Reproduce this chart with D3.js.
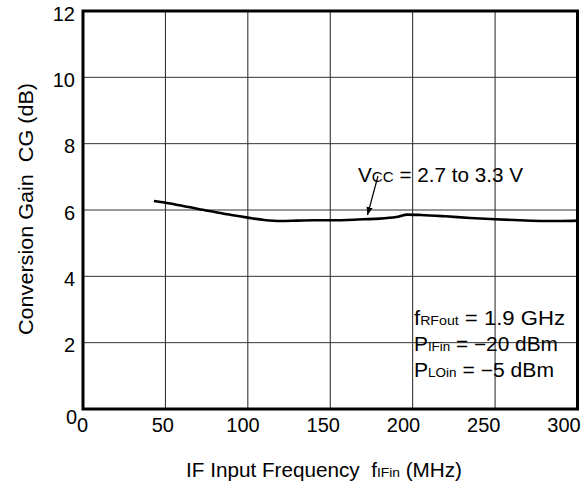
<!DOCTYPE html>
<html><head><meta charset="utf-8">
<script src="https://cdn.jsdelivr.net/npm/d3@7"></script>
<style>body{margin:0;background:#fff}svg{display:block}text{font-family:"Liberation Sans",Arial,sans-serif;fill:#000;white-space:pre}</style>
</head><body><svg id="c" width="587" height="486"></svg>
<script>
const freqs = [43, 50, 60, 70, 80, 90, 100, 110, 120, 130, 140, 150, 160, 170, 180, 190, 197, 205, 220, 235, 250, 265, 280, 290, 300];
const gains = [6.27, 6.22, 6.13, 6.03, 5.94, 5.85, 5.77, 5.70, 5.67, 5.68, 5.69, 5.69, 5.70, 5.72, 5.74, 5.79, 5.86, 5.85, 5.81, 5.76, 5.72, 5.69, 5.67, 5.67, 5.68];
const xTicks = [0, 50, 100, 150, 200, 250, 300];
const yTicks = [0, 2, 4, 6, 8, 10, 12];

const FONT = "Liberation Sans, Arial, sans-serif";
const svg = d3.select("#c");
const L = 83, R = 577.5, T = 11, B = 409;
const x = d3.scaleLinear().domain([0, 300]).range([L, R]);
const y = d3.scaleLinear().domain([0, 12]).range([B, T]);
// tick labels in the reference sit on a slightly compressed scale
const xl = d3.scaleLinear().domain([0, 300]).range([82, 563.5]);

// gridlines
svg.append("g").selectAll("line").data(xTicks.slice(1, -1)).join("line")
  .attr("x1", d => x(d)).attr("x2", d => x(d)).attr("y1", T).attr("y2", B)
  .attr("stroke", "#222").attr("stroke-width", 1);
svg.append("g").selectAll("line").data(yTicks.slice(1, -1)).join("line")
  .attr("y1", d => y(d)).attr("y2", d => y(d)).attr("x1", L).attr("x2", R)
  .attr("stroke", "#333").attr("stroke-width", 1);

// x tick labels
const xa = svg.append("g").attr("transform", `translate(0,${B})`)
  .call(d3.axisBottom(xl).tickValues(xTicks).tickSize(0));
xa.select(".domain").remove();
xa.selectAll("text").attr("font-size", 20).attr("font-family", FONT).attr("fill", "#000")
  .attr("dy", null).attr("y", 22.5);
// y tick labels
const ya = svg.append("g").attr("transform", `translate(${L},0)`)
  .call(d3.axisLeft(y).tickValues(yTicks).tickSize(0).tickPadding(8));
ya.select(".domain").remove();
ya.selectAll("text").attr("font-size", 20).attr("font-family", FONT).attr("fill", "#000")
  .attr("dy", d => d === 0 ? "0.7em" : "0.46em").attr("x", d => d === 0 ? -6 : -8);

// frame
svg.append("rect").attr("x", L).attr("y", T).attr("width", R - L).attr("height", B - T)
  .attr("fill", "none").attr("stroke", "#000").attr("stroke-width", 3);

// curve
const line = d3.line().x((d, i) => x(freqs[i])).y(d => y(d)).curve(d3.curveMonotoneX);
svg.append("path").datum(gains).attr("d", line).attr("fill", "none")
  .attr("stroke", "#000").attr("stroke-width", 2.6);

// annotation
svg.append("defs").append("marker").attr("id", "ah").attr("viewBox", "0 0 10 10")
  .attr("refX", 10).attr("refY", 5).attr("markerWidth", 8).attr("markerHeight", 8)
  .attr("markerUnits", "userSpaceOnUse").attr("orient", "auto")
  .append("path").attr("d", "M0,1 L10,5 L0,9 Z").attr("fill", "#000");
svg.append("line").attr("x1", 378).attr("y1", 176).attr("x2", 367.5).attr("y2", 215)
  .attr("stroke", "#000").attr("stroke-width", 1.2).attr("marker-end", "url(#ah)");
const ann = svg.append("text").attr("x", 358).attr("y", 181.5).attr("font-size", 20.5)
  .attr("textLength", 165).attr("lengthAdjust", "spacingAndGlyphs");
ann.append("tspan").text("V");
ann.append("tspan").attr("font-size", 15).text("CC");
ann.append("tspan").text(" = 2.7 to 3.3 V");

// conditions
const cond = [["f", "RFout", " = 1.9 GHz", 151], ["P", "IFin", " = \u221220 dBm", 144], ["P", "LOin", " = \u22125 dBm", 140]];
const condY = [325, 351, 376.5];
cond.forEach((c, i) => {
  const t = svg.append("text").attr("x", 414).attr("y", condY[i]).attr("font-size", 19.5)
    .attr("textLength", c[3]).attr("lengthAdjust", "spacingAndGlyphs");
  t.append("tspan").text(c[0]);
  t.append("tspan").attr("font-size", 12.5).text(c[1]);
  t.append("tspan").text(c[2]);
});

// axis titles
const xt = svg.append("text").attr("x", 186).attr("y", 476.5).attr("font-size", 19.5)
  .attr("textLength", 276).attr("lengthAdjust", "spacingAndGlyphs");
xt.append("tspan").text("IF Input Frequency  f");
xt.append("tspan").attr("font-size", 13).text("IFin");
xt.append("tspan").text(" (MHz)");
svg.append("text").attr("transform", "translate(33,209) rotate(-90)").attr("text-anchor", "middle")
  .attr("font-size", 20.5).attr("textLength", 252).attr("lengthAdjust", "spacingAndGlyphs")
  .text("Conversion Gain  CG (dB)");
</script></body></html>
